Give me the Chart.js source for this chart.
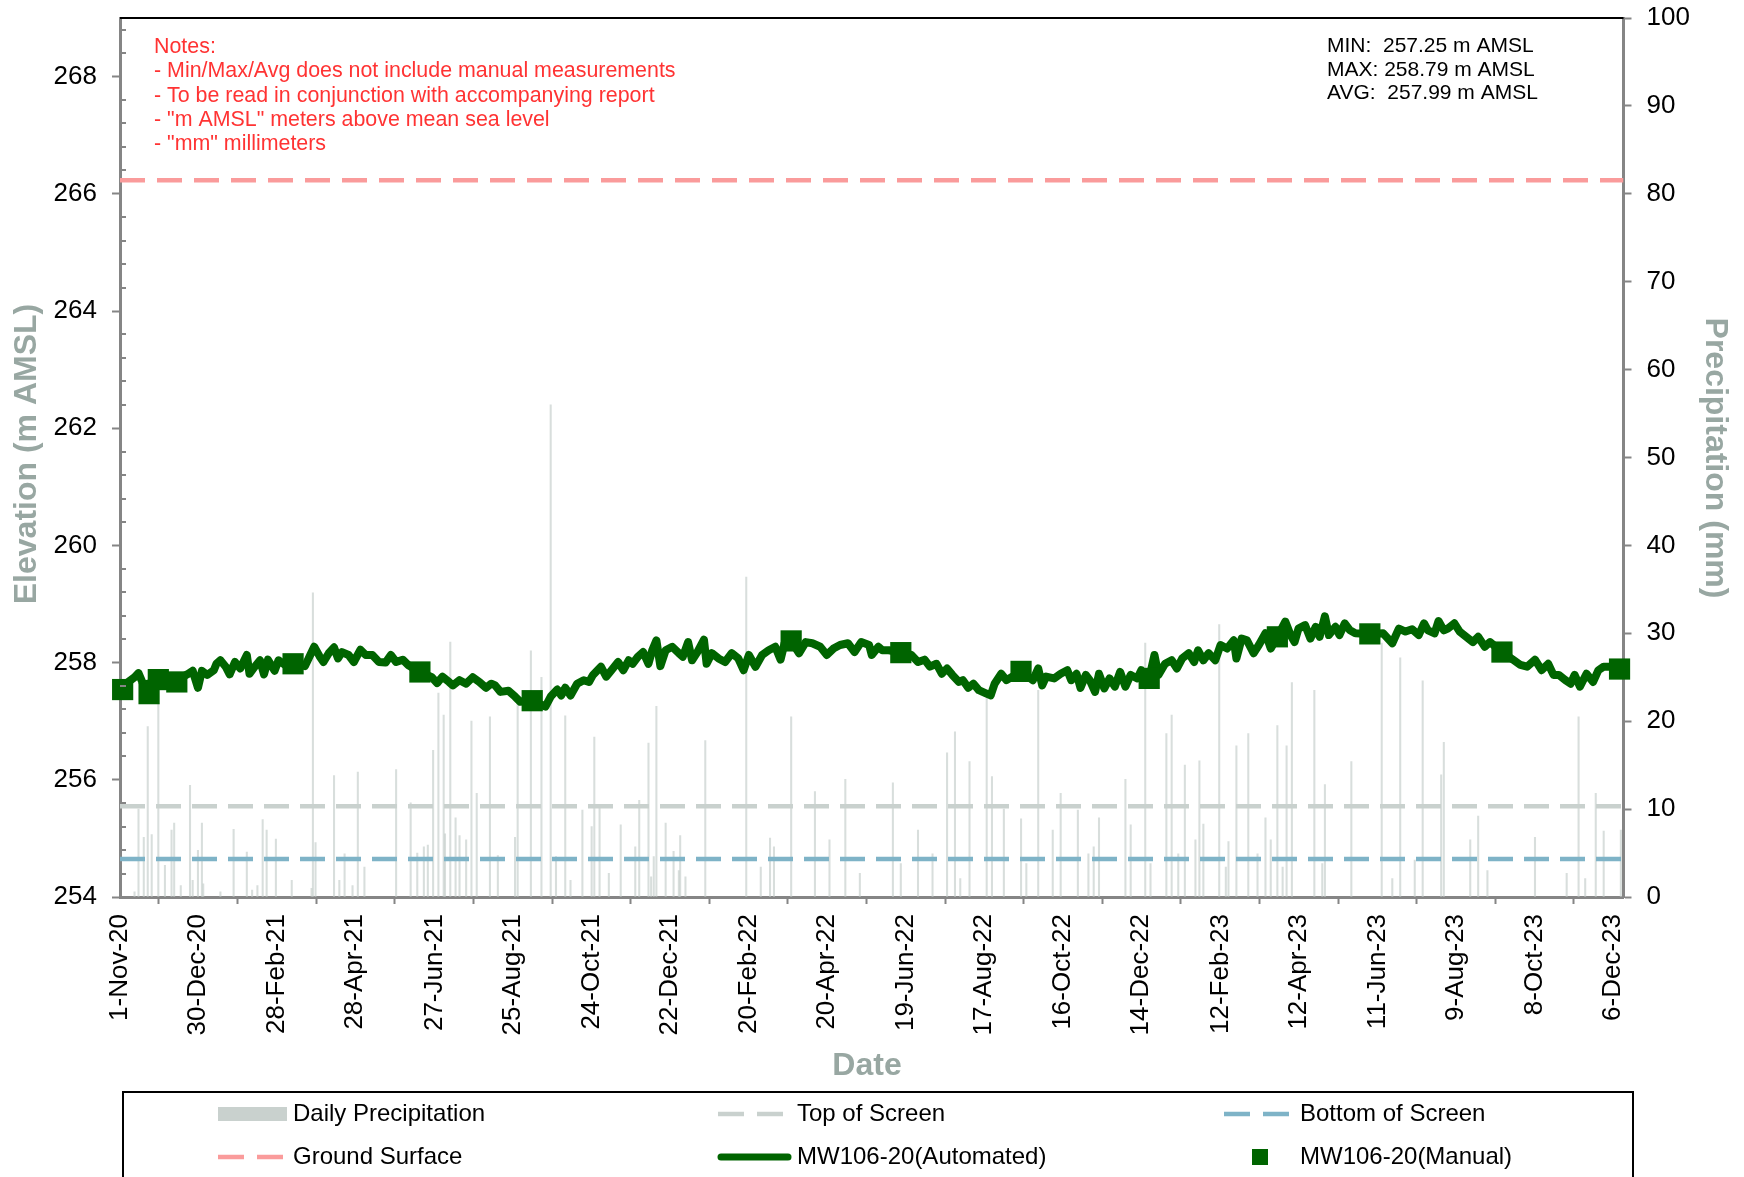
<!DOCTYPE html>
<html>
<head>
<meta charset="utf-8">
<title>MW106-20 Groundwater Elevation</title>
<script src="https://cdn.jsdelivr.net/npm/chart.js@4.4.0/dist/chart.umd.min.js"></script>
<style>
    html, body { margin: 0; padding: 0; background: #ffffff; }
    #hydrograph-container { position: relative; width: 1744px; height: 1177px; }
</style>
</head>
<body>
<div id="hydrograph-container"><canvas id="mw106-hydrograph"></canvas></div>
<script>
'use strict';

// x values are days counted from 1-Nov-20
const xTickDays = [0, 59, 119, 178, 238, 297, 357, 416, 476, 535,
    595, 654, 714, 773, 833, 892, 952, 1011, 1071, 1130];
const xTickLabels = ['1-Nov-20', '30-Dec-20', '28-Feb-21', '28-Apr-21', '27-Jun-21',
    '25-Aug-21', '24-Oct-21', '22-Dec-21', '20-Feb-22', '20-Apr-22', '19-Jun-22',
    '17-Aug-22', '16-Oct-22', '14-Dec-22', '12-Feb-23', '12-Apr-23', '11-Jun-23',
    '9-Aug-23', '8-Oct-23', '6-Dec-23'];
const elevationTicks = [254, 256, 258, 260, 262, 264, 266, 268];
const precipTicks = [0, 10, 20, 30, 40, 50, 60, 70, 80, 90, 100];

const autoDays = [
    0, 8, 11, 14, 18, 21, 29, 37, 44, 51,
    55, 59, 62, 66, 71, 73, 76, 80, 83, 87,
    91, 96, 98, 102, 106, 109, 112, 117, 120, 125,
    132, 140, 144, 147, 151, 154, 158, 162, 165, 168,
    173, 177, 182, 186, 191, 196, 201, 205, 209, 214,
    218, 227, 236, 240, 244, 249, 252, 257, 262, 267,
    272, 277, 281, 284, 288, 294, 299, 303, 312, 322,
    326, 331, 334, 337, 341, 346, 351, 355, 358, 364,
    368, 372, 377, 381, 385, 388, 392, 396, 400, 403,
    406, 409, 413, 418, 423, 426, 430, 433, 437, 442,
    444, 448, 453, 458, 463, 468, 472, 476, 481, 486,
    491, 496, 500, 503, 508, 514, 519, 524, 530, 535,
    540, 545, 551, 556, 561, 567, 569, 574, 577, 582,
    591, 599, 604, 609, 613, 618, 622, 626, 630, 635,
    638, 642, 646, 650, 655, 659, 662, 667, 671, 682,
    691, 695, 698, 701, 707, 712, 717, 720, 724, 727,
    731, 734, 738, 741, 745, 749, 753, 757, 761, 765,
    770, 773, 779, 783, 786, 791, 796, 800, 804, 809,
    813, 816, 820, 824, 829, 833, 838, 843, 845, 849,
    853, 858, 862, 867, 871, 876, 882, 886, 889, 892,
    897, 901, 905, 908, 912, 915, 920, 923, 927, 931,
    935, 946, 956, 963, 968, 973, 978, 983, 987, 990,
    995, 998, 1002, 1005, 1010, 1014, 1019, 1024, 1028, 1033,
    1037, 1046, 1055, 1060, 1065, 1071, 1076, 1081, 1085, 1089,
    1094, 1098, 1101, 1105, 1110, 1115, 1119, 1123, 1129, 1135];
const autoLevels = [
    257.56, 257.70, 257.75, 257.82, 257.61, 257.64, 257.67, 257.67, 257.71, 257.80,
    257.86, 257.57, 257.86, 257.79, 257.87, 257.98, 258.04, 257.93, 257.80, 258.01,
    257.90, 258.13, 257.81, 257.93, 258.04, 257.80, 258.05, 257.86, 258.04, 257.96,
    257.98, 257.94, 258.13, 258.27, 258.11, 258.01, 258.16, 258.26, 258.07, 258.18,
    258.13, 258.01, 258.22, 258.13, 258.13, 258.01, 258.00, 258.13, 258.01, 258.05,
    257.96, 257.84, 257.75, 257.65, 257.76, 257.67, 257.61, 257.70, 257.64, 257.75,
    257.67, 257.57, 257.64, 257.61, 257.50, 257.52, 257.42, 257.33, 257.35, 257.25,
    257.42, 257.54, 257.44, 257.57, 257.44, 257.64, 257.70, 257.67, 257.79, 257.93,
    257.76, 257.87, 258.01, 257.87, 258.04, 257.98, 258.10, 258.18, 257.98, 258.22,
    258.38, 257.94, 258.21, 258.27, 258.16, 258.10, 258.35, 258.04, 258.18, 258.39,
    257.98, 258.16, 258.07, 258.01, 258.16, 258.07, 257.87, 258.13, 257.93, 258.13,
    258.21, 258.27, 258.05, 258.33, 258.37, 258.16, 258.35, 258.33, 258.27, 258.13,
    258.24, 258.30, 258.33, 258.18, 258.35, 258.30, 258.13, 258.27, 258.21, 258.21,
    258.17, 258.13, 258.01, 258.05, 257.93, 257.98, 257.81, 257.90, 257.79, 257.67,
    257.70, 257.57, 257.64, 257.53, 257.48, 257.44, 257.64, 257.81, 257.70, 257.85,
    257.70, 257.90, 257.61, 257.76, 257.73, 257.81, 257.87, 257.70, 257.81, 257.57,
    257.79, 257.70, 257.50, 257.81, 257.56, 257.73, 257.59, 257.84, 257.59, 257.79,
    257.73, 257.87, 257.73, 258.13, 257.79, 257.98, 258.04, 257.90, 258.07, 258.16,
    258.01, 258.21, 258.04, 258.16, 258.04, 258.30, 258.24, 258.38, 258.07, 258.41,
    258.38, 258.16, 258.30, 258.50, 258.24, 258.44, 258.70, 258.47, 258.35, 258.58,
    258.64, 258.41, 258.61, 258.44, 258.79, 258.47, 258.61, 258.47, 258.67, 258.55,
    258.50, 258.49, 258.50, 258.33, 258.58, 258.53, 258.57, 258.47, 258.67, 258.55,
    258.50, 258.71, 258.55, 258.58, 258.67, 258.53, 258.44, 258.35, 258.44, 258.27,
    258.35, 258.18, 258.04, 257.96, 257.93, 258.05, 257.87, 257.98, 257.79, 257.79,
    257.70, 257.64, 257.79, 257.59, 257.81, 257.67, 257.87, 257.93, 257.93, 257.89];

const manualDays = [2, 22, 29, 43, 131, 227, 312, 508, 591, 682, 779, 876, 946, 1046, 1135];
const manualLevels = [257.54, 257.47, 257.71, 257.67, 257.98, 257.84, 257.35, 258.37,
    258.17, 257.85, 257.73, 258.44, 258.49, 258.18, 257.89];

const precipDays = [
    11, 14, 18, 21, 24, 29, 34, 39, 41, 46,
    53, 55, 59, 62, 63, 76, 86, 96, 100, 104,
    108, 111, 118, 130, 145, 146, 148, 162, 166, 170,
    176, 180, 185, 209, 220, 225, 230, 233, 237, 241,
    245, 246, 250, 254, 257, 262, 266, 270, 280, 286,
    299, 301, 311, 319, 326, 330, 337, 341, 350, 357,
    359, 363, 370, 379, 390, 393, 400, 402, 404, 406,
    413, 419, 423, 424, 428, 443, 474, 485, 492, 495,
    508, 526, 537, 549, 560, 585, 591, 604, 615, 626,
    632, 636, 643, 656, 660, 669, 682, 686, 695, 706,
    712, 725, 733, 737, 741, 761, 765, 776, 780, 792,
    796, 801, 806, 814, 817, 820, 832, 837, 839, 845,
    854, 861, 867, 871, 876, 880, 883, 887, 904, 910,
    912, 932, 955, 963, 969, 980, 986, 1000, 1002, 1022,
    1028, 1035, 1071, 1095, 1104, 1109, 1117, 1123, 1136];
const precipMm = [
    0.6, 10, 6.8, 19.4, 7.1, 22, 3.6, 7.6, 8.4, 1.3,
    12.7, 1.9, 5.3, 8.4, 1.5, 0.6, 7.7, 5.1, 0.8, 1.3,
    8.8, 7.6, 6.6, 1.9, 1, 34.6, 6.2, 13.8, 1.9, 4.9,
    1.3, 14.2, 3.4, 14.5, 10.7, 5, 5.7, 5.9, 16.7, 23.2,
    20.7, 7.2, 29, 9, 7, 6.5, 20, 11.8, 20.5, 4.7,
    6.8, 22, 28, 25, 56, 4.6, 20.6, 1.9, 9.9, 8,
    18.2, 10.2, 2.7, 8.2, 5.7, 11, 17.5, 2.3, 4.6, 21.7,
    8.4, 5.2, 3, 7, 2.3, 17.8, 36.4, 3.4, 6.7, 5.7,
    20.5, 12, 6.5, 13.4, 2.7, 13, 3.8, 7.6, 4.9, 16.4,
    18.8, 2.1, 15.4, 23, 13.7, 10, 8.9, 3.8, 23.5, 7.6,
    11.8, 9.9, 4.9, 5.7, 9, 13.4, 8.2, 28.9, 3.8, 18.6,
    20.7, 4.9, 15, 6.5, 15.5, 8.3, 31, 3.4, 6.3, 17.2,
    18.6, 4.9, 9, 6.5, 19.5, 3.4, 17.2, 24.4, 23.5, 3.8,
    12.8, 15.4, 28.9, 2.1, 27.2, 4.2, 24.6, 13.9, 17.6, 6.5,
    9.2, 3, 6.8, 2.7, 20.5, 2.1, 11.8, 7.5, 7.6];

const groundSurface = 266.23;
const screenTop = 255.55;
const screenBottom = 254.65;

const notesLines = [
    'Notes:',
    '- Min/Max/Avg does not include manual measurements',
    '- To be read in conjunction with accompanying report',
    '- "m AMSL" meters above mean sea level',
    '- "mm" millimeters'];
const statsLines = [
    'MIN:  257.25 m AMSL',
    'MAX: 258.79 m AMSL',
    'AVG:  257.99 m AMSL'];

const FONT = "'Liberation Sans', Arial, sans-serif";
const AXIS_GREY = '#858585';
const TITLE_GREY = '#98A7A2';
const X_MAX = 1138;

Chart.defaults.font.family = FONT;

window.toPoints = function (days, values) {
    return days.map((d, i) => ({x: d, y: values[i]}));
};

window.flatLine = function (level) {
    return [{x: 0, y: level}, {x: X_MAX, y: level}];
};

// value axes keep the plot flush with the top padding
window.fixAxisWidth = function (width) {
    return function (scale) {
        scale.width = width;
        scale.paddingTop = 0;
        scale.paddingBottom = 0;
    };
};

// frame, minor ticks, axis titles, notes and legend box
const hydroDecor = {
    id: 'hydroDecor',
    afterDraw(chart) {
        const ctx = chart.ctx;
        const area = chart.chartArea;
        const yScale = chart.scales.y;
        const sets = chart.data.datasets;
        ctx.save();

        ctx.strokeStyle = '#000000';
        ctx.lineWidth = 2;
        ctx.beginPath();
        ctx.moveTo(area.left, area.top);
        ctx.lineTo(area.right, area.top);
        ctx.stroke();

        ctx.strokeStyle = AXIS_GREY;
        ctx.lineWidth = 2;
        for (let i = 1; i < 38; i++) {
            if (i % 5 === 0) {
                continue;
            }
            const py = Math.round(yScale.getPixelForValue(254 + i * 0.4));
            ctx.beginPath();
            ctx.moveTo(area.left, py);
            ctx.lineTo(area.left + 6, py);
            ctx.stroke();
        }

        ctx.fillStyle = TITLE_GREY;
        ctx.font = 'bold 32px ' + FONT;
        ctx.textAlign = 'center';
        ctx.textBaseline = 'middle';
        ctx.save();
        ctx.translate(27, 454);
        ctx.rotate(-Math.PI / 2);
        ctx.fillText('Elevation (m AMSL)', 0, 0);
        ctx.restore();
        ctx.save();
        ctx.translate(1715, 458);
        ctx.rotate(Math.PI / 2);
        ctx.fillText('Precipitation (mm)', 0, 0);
        ctx.restore();
        ctx.fillText('Date', 867, 1066);

        ctx.textAlign = 'left';
        ctx.textBaseline = 'alphabetic';
        ctx.font = '21.4px ' + FONT;
        ctx.fillStyle = '#FF3333';
        notesLines.forEach((line, i) => ctx.fillText(line, 154, 52.7 + i * 24.4));
        ctx.font = '21px ' + FONT;
        ctx.fillStyle = '#000000';
        statsLines.forEach((line, i) => ctx.fillText(line, 1327, 52.3 + i * 23.3));

        // legend
        ctx.strokeStyle = '#000000';
        ctx.lineWidth = 2;
        ctx.strokeRect(123, 1092, 1510, 200);
        const rows = [1114, 1157];
        const cols = [218, 718, 1224];
        const textX = [293, 797, 1300];
        const items = [
            {set: sets[0], row: 0, col: 0, kind: 'box'},
            {set: sets[1], row: 0, col: 1, kind: 'dash'},
            {set: sets[2], row: 0, col: 2, kind: 'dash'},
            {set: sets[3], row: 1, col: 0, kind: 'dash'},
            {set: sets[4], row: 1, col: 1, kind: 'line'},
            {set: sets[5], row: 1, col: 2, kind: 'square'},
        ];
        items.forEach(item => {
            const y = rows[item.row];
            const x = cols[item.col];
            ctx.save();
            if (item.kind === 'box') {
                ctx.fillStyle = item.set.legendColor;
                ctx.fillRect(x, y - 7, 69, 14);
            } else if (item.kind === 'dash') {
                ctx.strokeStyle = item.set.borderColor;
                ctx.lineWidth = item.set.borderWidth;
                ctx.setLineDash([26, 13]);
                ctx.beginPath();
                ctx.moveTo(x, y);
                ctx.lineTo(x + 65, y);
                ctx.stroke();
            } else if (item.kind === 'line') {
                ctx.strokeStyle = item.set.borderColor;
                ctx.lineWidth = 7;
                ctx.lineCap = 'round';
                ctx.beginPath();
                ctx.moveTo(x + 3, y);
                ctx.lineTo(x + 70, y);
                ctx.stroke();
            } else {
                ctx.fillStyle = item.set.pointBackgroundColor;
                ctx.fillRect(x + 28, y - 8, 16, 16);
            }
            ctx.restore();
            ctx.fillStyle = '#000000';
            ctx.font = '24px ' + FONT;
            ctx.textBaseline = 'middle';
            ctx.fillText(item.set.label, textX[item.col], y);
        });
        ctx.restore();
    },
};

const ctx = document.getElementById('mw106-hydrograph').getContext('2d');

window.hydrograph = new Chart(ctx, {
    type: 'line',
    data: {
        datasets: [
            {
                type: 'bar',
                label: 'Daily Precipitation',
                data: toPoints(precipDays, precipMm),
                yAxisID: 'yPrecip',
                backgroundColor: 'rgba(200, 208, 205, 0.7)',
                legendColor: '#C9D1CE',
                barThickness: 1.4,
                order: 6,
            },
            {
                label: 'Top of Screen',
                data: flatLine(screenTop),
                borderColor: '#C9D1CE',
                borderWidth: 4.5,
                borderDash: [25, 11],
                pointRadius: 0,
                order: 4,
            },
            {
                label: 'Bottom of Screen',
                data: flatLine(screenBottom),
                borderColor: '#7EB3C7',
                borderWidth: 4.5,
                borderDash: [25, 11],
                pointRadius: 0,
                order: 4,
            },
            {
                label: 'Ground Surface',
                data: flatLine(groundSurface),
                borderColor: '#FA9B9B',
                borderWidth: 4.5,
                borderDash: [25, 12],
                pointRadius: 0,
                order: 4,
            },
            {
                label: 'MW106-20(Automated)',
                data: toPoints(autoDays, autoLevels),
                borderColor: '#006400',
                borderWidth: 8,
                borderJoinStyle: 'round',
                borderCapStyle: 'round',
                pointRadius: 0,
                tension: 0,
                order: 2,
            },
            {
                label: 'MW106-20(Manual)',
                data: toPoints(manualDays, manualLevels),
                showLine: false,
                pointStyle: 'rect',
                pointRadius: 15,
                pointBackgroundColor: '#006400',
                pointBorderWidth: 0,
                clip: false,
                order: 1,
            },
        ],
    },
    options: {
        responsive: true,
        maintainAspectRatio: false,
        animation: false,
        devicePixelRatio: 1,
        layout: {padding: {top: 18, left: 0, right: 0, bottom: 0}},
        plugins: {
            legend: {display: false},
            tooltip: {enabled: false},
        },
        scales: {
            x: {
                type: 'linear',
                min: 0,
                max: X_MAX,
                offset: false,
                afterBuildTicks: scale => {
                    scale.ticks = xTickDays.map(d => ({value: d}));
                },
                afterFit: scale => {
                    scale.height = 280;
                },
                ticks: {
                    autoSkip: false,
                    minRotation: 90,
                    maxRotation: 90,
                    padding: 10,
                    color: '#000000',
                    font: {size: 26},
                    callback: (value, index) => xTickLabels[index],
                },
                grid: {drawOnChartArea: false, tickLength: 7, tickWidth: 2, tickColor: AXIS_GREY},
                border: {color: AXIS_GREY, width: 3},
            },
            y: {
                type: 'linear',
                position: 'left',
                min: 254,
                max: 269,
                afterBuildTicks: scale => {
                    scale.ticks = elevationTicks.map(v => ({value: v}));
                },
                afterFit: fixAxisWidth(120),
                ticks: {padding: 15, color: '#000000', font: {size: 26}},
                grid: {drawOnChartArea: false, tickLength: 8, tickWidth: 2, tickColor: AXIS_GREY},
                border: {color: AXIS_GREY, width: 3},
            },
            yPrecip: {
                type: 'linear',
                position: 'right',
                min: 0,
                max: 100,
                afterBuildTicks: scale => {
                    scale.ticks = precipTicks.map(v => ({value: v}));
                },
                afterFit: fixAxisWidth(120.5),
                ticks: {padding: 15, color: '#000000', font: {size: 26}},
                grid: {drawOnChartArea: false, tickLength: 8, tickWidth: 2, tickColor: AXIS_GREY},
                border: {color: AXIS_GREY, width: 3},
            },
        },
    },
    plugins: [hydroDecor],
});
</script>
</body>
</html>
